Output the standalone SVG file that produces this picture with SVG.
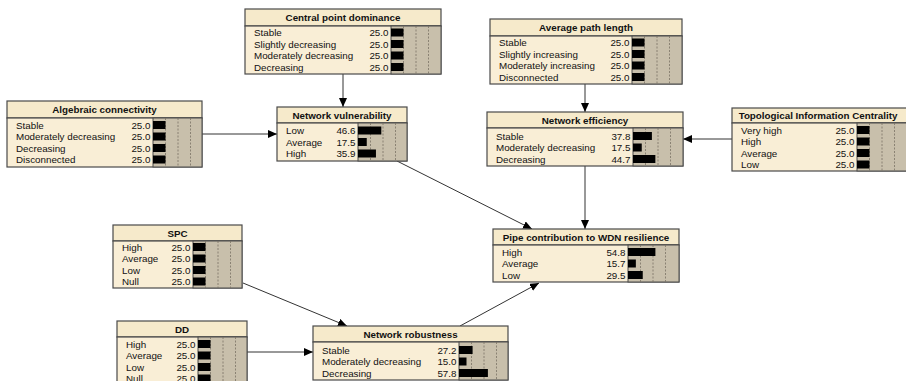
<svg xmlns="http://www.w3.org/2000/svg" width="906" height="381" viewBox="0 0 906 381">
<style>
.hd{fill:#F6EACB;stroke:#4a4a4a;stroke-width:1.2}
.bd{fill:#F9EED6;stroke:#4a4a4a;stroke-width:1.2}
.ba{fill:#C8BFAB;stroke:#4a4a4a;stroke-width:1}
.gl{stroke:#7a7264;stroke-width:0.8;stroke-dasharray:2,1.5}
.bar{fill:#000}
.t{font-family:"Liberation Sans",Arial,sans-serif;font-size:9.8px;font-weight:bold;fill:#111;text-anchor:middle}
.l{font-family:"Liberation Sans",Arial,sans-serif;font-size:9.8px;fill:#111}
.v{font-family:"Liberation Sans",Arial,sans-serif;font-size:9.8px;fill:#111;text-anchor:end}
.c{stroke:#333;stroke-width:1;fill:none;marker-end:url(#ah)}
</style>
<defs>
<marker id="ah" markerWidth="9" markerHeight="8" refX="9" refY="4" orient="auto" markerUnits="userSpaceOnUse">
<path d="M0,0 L9,4 L0,8 Z" fill="#000"/>
</marker>
</defs>
<rect width="906" height="381" fill="#fff"/>
<g id="connectors">
<path class="c" d="M343,74 L343,107"/>
<path class="c" d="M585,84 L585,112"/>
<path class="c" d="M202,134 L277,134"/>
<path class="c" d="M732,139 L683,139"/>
<path class="c" d="M397,161 L532,229"/>
<path class="c" d="M585,166 L585,229"/>
<path class="c" d="M243,283 L347,326"/>
<path class="c" d="M247,352 L313,352"/>
<path class="c" d="M460,326 L539,283"/>
</g>
<g id="central-point-dominance">
<rect class="hd" x="245" y="9" width="196" height="17"/>
<rect class="bd" x="245" y="26" width="196" height="48"/>
<rect class="ba" x="391" y="26" width="50" height="48"/>
<line class="gl" x1="403.5" y1="26" x2="403.5" y2="74"/><line class="gl" x1="416" y1="26" x2="416" y2="74"/><line class="gl" x1="428.5" y1="26" x2="428.5" y2="74"/>
<text class="t" x="343" y="21">Central point dominance</text>
<text class="l" x="254" y="36">Stable</text><text class="v" x="388.5" y="36">25.0</text><rect class="bar" x="391" y="28.5" width="12.5" height="8"/>
<text class="l" x="254" y="47.5">Slightly decreasing</text><text class="v" x="388.5" y="47.5">25.0</text><rect class="bar" x="391" y="40" width="12.5" height="8"/>
<text class="l" x="254" y="59">Moderately decreasing</text><text class="v" x="388.5" y="59">25.0</text><rect class="bar" x="391" y="51.5" width="12.5" height="8"/>
<text class="l" x="254" y="70.5">Decreasing</text><text class="v" x="388.5" y="70.5">25.0</text><rect class="bar" x="391" y="63" width="12.5" height="8"/>
</g>
<g id="average-path-length">
<rect class="hd" x="490" y="19" width="192" height="17"/>
<rect class="bd" x="490" y="36" width="192" height="48"/>
<rect class="ba" x="632" y="36" width="50" height="48"/>
<line class="gl" x1="644.5" y1="36" x2="644.5" y2="84"/><line class="gl" x1="657" y1="36" x2="657" y2="84"/><line class="gl" x1="669.5" y1="36" x2="669.5" y2="84"/>
<text class="t" x="586" y="31">Average path length</text>
<text class="l" x="499" y="46">Stable</text><text class="v" x="629.5" y="46">25.0</text><rect class="bar" x="632" y="38.5" width="12.5" height="8"/>
<text class="l" x="499" y="57.5">Slightly increasing</text><text class="v" x="629.5" y="57.5">25.0</text><rect class="bar" x="632" y="50" width="12.5" height="8"/>
<text class="l" x="499" y="69">Moderately increasing</text><text class="v" x="629.5" y="69">25.0</text><rect class="bar" x="632" y="61.5" width="12.5" height="8"/>
<text class="l" x="499" y="80.5">Disconnected</text><text class="v" x="629.5" y="80.5">25.0</text><rect class="bar" x="632" y="73" width="12.5" height="8"/>
</g>
<g id="algebraic-connectivity">
<rect class="hd" x="7" y="101" width="195" height="17"/>
<rect class="bd" x="7" y="118" width="195" height="49"/>
<rect class="ba" x="153" y="118" width="49" height="49"/>
<line class="gl" x1="165.5" y1="118" x2="165.5" y2="167"/><line class="gl" x1="178" y1="118" x2="178" y2="167"/><line class="gl" x1="190.5" y1="118" x2="190.5" y2="167"/>
<text class="t" x="104.5" y="113">Algebraic connectivity</text>
<text class="l" x="16" y="128.5">Stable</text><text class="v" x="150.5" y="128.5">25.0</text><rect class="bar" x="153" y="121" width="12.5" height="8"/>
<text class="l" x="16" y="140">Moderately decreasing</text><text class="v" x="150.5" y="140">25.0</text><rect class="bar" x="153" y="132.5" width="12.5" height="8"/>
<text class="l" x="16" y="151.5">Decreasing</text><text class="v" x="150.5" y="151.5">25.0</text><rect class="bar" x="153" y="144" width="12.5" height="8"/>
<text class="l" x="16" y="163">Disconnected</text><text class="v" x="150.5" y="163">25.0</text><rect class="bar" x="153" y="155.5" width="12.5" height="8"/>
</g>
<g id="network-vulnerability">
<rect class="hd" x="277" y="107" width="130" height="16"/>
<rect class="bd" x="277" y="123" width="130" height="38"/>
<rect class="ba" x="358" y="123" width="49" height="38"/>
<line class="gl" x1="370.5" y1="123" x2="370.5" y2="161"/><line class="gl" x1="383" y1="123" x2="383" y2="161"/><line class="gl" x1="395.5" y1="123" x2="395.5" y2="161"/>
<text class="t" x="342" y="118.5">Network vulnerability</text>
<text class="l" x="286" y="134">Low</text><text class="v" x="355.5" y="134">46.6</text><rect class="bar" x="358" y="126.5" width="23.3" height="8"/>
<text class="l" x="286" y="145.5">Average</text><text class="v" x="355.5" y="145.5">17.5</text><rect class="bar" x="358" y="138" width="8.75" height="8"/>
<text class="l" x="286" y="157">High</text><text class="v" x="355.5" y="157">35.9</text><rect class="bar" x="358" y="149.5" width="17.95" height="8"/>
</g>
<g id="network-efficiency">
<rect class="hd" x="487" y="112" width="196" height="16"/>
<rect class="bd" x="487" y="128" width="196" height="38"/>
<rect class="ba" x="633" y="128" width="50" height="38"/>
<line class="gl" x1="645.5" y1="128" x2="645.5" y2="166"/><line class="gl" x1="658" y1="128" x2="658" y2="166"/><line class="gl" x1="670.5" y1="128" x2="670.5" y2="166"/>
<text class="t" x="585" y="123.5">Network efficiency</text>
<text class="l" x="496" y="139.5">Stable</text><text class="v" x="630.5" y="139.5">37.8</text><rect class="bar" x="633" y="132" width="18.9" height="8"/>
<text class="l" x="496" y="151">Moderately decreasing</text><text class="v" x="630.5" y="151">17.5</text><rect class="bar" x="633" y="143.5" width="8.75" height="8"/>
<text class="l" x="496" y="162.5">Decreasing</text><text class="v" x="630.5" y="162.5">44.7</text><rect class="bar" x="633" y="155" width="22.35" height="8"/>
</g>
<g id="topological-information-centrality">
<rect class="hd" x="732" y="108" width="176" height="15"/>
<rect class="bd" x="732" y="123" width="176" height="48"/>
<rect class="ba" x="857" y="123" width="51" height="48"/>
<line class="gl" x1="869.5" y1="123" x2="869.5" y2="171"/><line class="gl" x1="882" y1="123" x2="882" y2="171"/><line class="gl" x1="894.5" y1="123" x2="894.5" y2="171"/>
<text class="t" x="818" y="119">Topological Information Centrality</text>
<text class="l" x="741" y="133.5">Very high</text><text class="v" x="854.5" y="133.5">25.0</text><rect class="bar" x="857" y="126" width="12.5" height="8"/>
<text class="l" x="741" y="145">High</text><text class="v" x="854.5" y="145">25.0</text><rect class="bar" x="857" y="137.5" width="12.5" height="8"/>
<text class="l" x="741" y="156.5">Average</text><text class="v" x="854.5" y="156.5">25.0</text><rect class="bar" x="857" y="149" width="12.5" height="8"/>
<text class="l" x="741" y="168">Low</text><text class="v" x="854.5" y="168">25.0</text><rect class="bar" x="857" y="160.5" width="12.5" height="8"/>
</g>
<g id="spc">
<rect class="hd" x="113" y="225" width="129" height="16"/>
<rect class="bd" x="113" y="241" width="129" height="47"/>
<rect class="ba" x="193" y="241" width="49" height="47"/>
<line class="gl" x1="205.5" y1="241" x2="205.5" y2="288"/><line class="gl" x1="218" y1="241" x2="218" y2="288"/><line class="gl" x1="230.5" y1="241" x2="230.5" y2="288"/>
<text class="t" x="177.5" y="236.5">SPC</text>
<text class="l" x="122" y="250.5">High</text><text class="v" x="190.5" y="250.5">25.0</text><rect class="bar" x="193" y="243" width="12.5" height="8"/>
<text class="l" x="122" y="262">Average</text><text class="v" x="190.5" y="262">25.0</text><rect class="bar" x="193" y="254.5" width="12.5" height="8"/>
<text class="l" x="122" y="273.5">Low</text><text class="v" x="190.5" y="273.5">25.0</text><rect class="bar" x="193" y="266" width="12.5" height="8"/>
<text class="l" x="122" y="285">Null</text><text class="v" x="190.5" y="285">25.0</text><rect class="bar" x="193" y="277.5" width="12.5" height="8"/>
</g>
<g id="pipe-contribution">
<rect class="hd" x="493" y="229" width="186" height="16"/>
<rect class="bd" x="493" y="245" width="186" height="37"/>
<rect class="ba" x="628" y="245" width="51" height="37"/>
<line class="gl" x1="640.5" y1="245" x2="640.5" y2="282"/><line class="gl" x1="653" y1="245" x2="653" y2="282"/><line class="gl" x1="665.5" y1="245" x2="665.5" y2="282"/>
<text class="t" x="586" y="240.5">Pipe contribution to WDN resilience</text>
<text class="l" x="502" y="255.5">High</text><text class="v" x="625.5" y="255.5">54.8</text><rect class="bar" x="628" y="248" width="27.4" height="8"/>
<text class="l" x="502" y="267">Average</text><text class="v" x="625.5" y="267">15.7</text><rect class="bar" x="628" y="259.5" width="7.85" height="8"/>
<text class="l" x="502" y="278.5">Low</text><text class="v" x="625.5" y="278.5">29.5</text><rect class="bar" x="628" y="271" width="14.75" height="8"/>
</g>
<g id="dd">
<rect class="hd" x="117" y="321" width="130" height="16"/>
<rect class="bd" x="117" y="337" width="130" height="49"/>
<rect class="ba" x="198" y="337" width="49" height="49"/>
<line class="gl" x1="210.5" y1="337" x2="210.5" y2="386"/><line class="gl" x1="223" y1="337" x2="223" y2="386"/><line class="gl" x1="235.5" y1="337" x2="235.5" y2="386"/>
<text class="t" x="182" y="332.5">DD</text>
<text class="l" x="126" y="347.5">High</text><text class="v" x="195.5" y="347.5">25.0</text><rect class="bar" x="198" y="340" width="12.5" height="8"/>
<text class="l" x="126" y="359">Average</text><text class="v" x="195.5" y="359">25.0</text><rect class="bar" x="198" y="351.5" width="12.5" height="8"/>
<text class="l" x="126" y="370.5">Low</text><text class="v" x="195.5" y="370.5">25.0</text><rect class="bar" x="198" y="363" width="12.5" height="8"/>
<text class="l" x="126" y="382">Null</text><text class="v" x="195.5" y="382">25.0</text><rect class="bar" x="198" y="374.5" width="12.5" height="8"/>
</g>
<g id="network-robustness">
<rect class="hd" x="313" y="326" width="195" height="16"/>
<rect class="bd" x="313" y="342" width="195" height="38"/>
<rect class="ba" x="459" y="342" width="49" height="38"/>
<line class="gl" x1="471.5" y1="342" x2="471.5" y2="380"/><line class="gl" x1="484" y1="342" x2="484" y2="380"/><line class="gl" x1="496.5" y1="342" x2="496.5" y2="380"/>
<text class="t" x="410.5" y="337.5">Network robustness</text>
<text class="l" x="322" y="353.5">Stable</text><text class="v" x="456.5" y="353.5">27.2</text><rect class="bar" x="459" y="346" width="13.6" height="8"/>
<text class="l" x="322" y="365">Moderately decreasing</text><text class="v" x="456.5" y="365">15.0</text><rect class="bar" x="459" y="357.5" width="7.5" height="8"/>
<text class="l" x="322" y="376.5">Decreasing</text><text class="v" x="456.5" y="376.5">57.8</text><rect class="bar" x="459" y="369" width="28.9" height="8"/>
</g>
</svg>
